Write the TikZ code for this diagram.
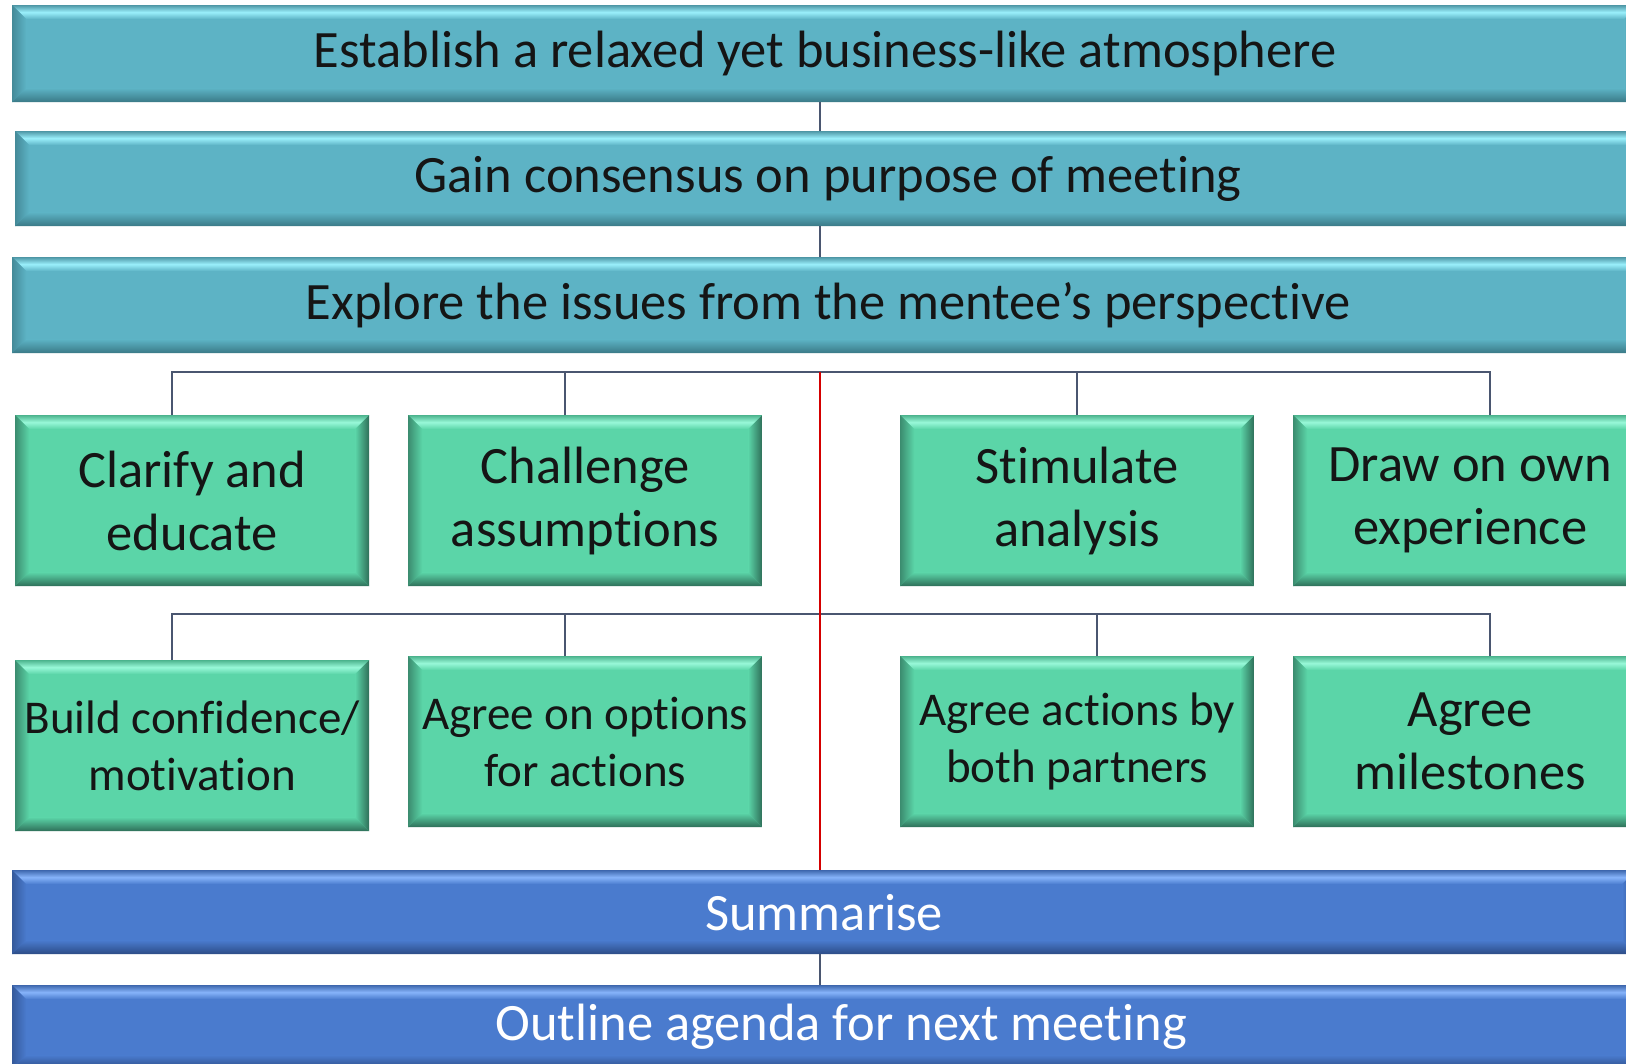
\documentclass[tikz,border=0pt]{standalone}
\usepackage{fontspec}
\setmainfont[Ligatures={NoCommon}]{Carlito}
\definecolor{tealB}{HTML}{5DB3C5}
\definecolor{tealL}{HTML}{9AEFFB}
\definecolor{tealD}{HTML}{3A7986}
\definecolor{greenB}{HTML}{5BD5A8}
\definecolor{greenL}{HTML}{98F8D8}
\definecolor{greenD}{HTML}{2E6E58}
\definecolor{blueB}{HTML}{4A7BCE}
\definecolor{blueL}{HTML}{86B3FA}
\definecolor{blueD}{HTML}{2C4C86}
\definecolor{connC}{HTML}{4A5670}
\definecolor{redC}{HTML}{D40000}
\definecolor{txtC}{HTML}{151515}
\tikzset{
  bevel/.style n args={3}{fill=#1, inner sep=0pt, anchor=north west, align=center,
    path picture={
      \path (path picture bounding box.north west) coordinate (bNW)
            (path picture bounding box.north east) coordinate (bNE)
            (path picture bounding box.south west) coordinate (bSW)
            (path picture bounding box.south east) coordinate (bSE);
      \path ([shift={(14pt,-14pt)}]bNW) coordinate (iNW)
            ([shift={(-14pt,-14pt)}]bNE) coordinate (iNE)
            ([shift={(14pt,14pt)}]bSW) coordinate (iSW)
            ([shift={(-14pt,14pt)}]bSE) coordinate (iSE);
      \shade[top color=#1!85!black, bottom color=#1, middle color=#2] (bNW) -- (bNE) -- (iNE) -- (iNW) -- cycle;
      \shade[left color=#3!70!#1, right color=#1] (bNW) -- (iNW) -- (iSW) -- (bSW) -- cycle;
      \shade[top color=#1, bottom color=#3] (bSW) -- (iSW) -- (iSE) -- (bSE) -- cycle;
      \shade[left color=#1, right color=#3] (bNE) -- (bSE) -- (iSE) -- (iNE) -- cycle;
    }},
  tealbar/.style={bevel={tealB}{tealL}{tealD}, text=txtC, font=\fontsize{52.5}{63}\selectfont},
  bluebar/.style={bevel={blueB}{blueL}{blueD}, text=white, font=\fontsize{52.5}{63}\selectfont},
  greenbox/.style={bevel={greenB}{greenL}{greenD}, text=txtC, minimum width=354pt, minimum height=171pt},
  bigtext/.style={font=\fontsize{52.5}{63}\selectfont},
  smalltext/.style={font=\fontsize{47}{57}\selectfont},
  conn/.style={draw=connC, line width=2pt},
  redconn/.style={draw=redC, line width=2.5pt},
}
\begin{document}
\begin{tikzpicture}[x=1pt,y=-1pt]
\useasboundingbox (0,0) rectangle (1626,1064);
\clip (0,0) rectangle (1626,1064);
\fill[white] (0,0) rectangle (1626,1064);
% bars
\node[tealbar, minimum width=1626pt, minimum height=97pt] (bar1) at (12,5) {Establish a relaxed yet business-like atmosphere};
\node[tealbar, minimum width=1626pt, minimum height=95pt] (bar2) at (15,131) {Gain consensus on purpose of meeting};
\node[tealbar, minimum width=1632pt, minimum height=96pt] (bar3) at (12,257) {Explore the issues from the mentee’s perspective};
\node[bluebar, minimum width=1624pt, minimum height=84pt] (bar4) at (12,870) {Summarise};
\node[bluebar, minimum width=1658pt, minimum height=84pt] (bar5) at (12,985) {Outline agenda for next meeting};
% row 1
\node[greenbox, bigtext] (g11) at (15,415) {Clarify and\\educate};
\node[greenbox, bigtext] (g12) at (408,415) {Challenge\\assumptions};
\node[greenbox, bigtext] (g13) at (900,415) {Stimulate\\analysis};
\node[greenbox, bigtext] (g14) at (1293,415) {Draw on own\\experience};
% row 2
\node[greenbox, smalltext] (g21) at (15,660) {Build confidence/\\motivation};
\node[greenbox, smalltext] (g22) at (408,656) {Agree on options\\for actions};
\node[greenbox, smalltext] (g23) at (900,656) {Agree actions by\\both partners};
\node[greenbox, bigtext] (g24) at (1293,656) {Agree\\milestones};
% connectors
\coordinate (spine) at (820,0);
\coordinate (h1) at (0,372);
\coordinate (h2) at (0,614);
\draw[conn] (bar1.south -| spine) -- (bar2.north -| spine);
\draw[conn] (bar2.south -| spine) -- (bar3.north -| spine);
\draw[conn] (bar4.south -| spine) -- (bar5.north -| spine);
\draw[conn] ([xshift=-20pt]g11.north) |- ([xshift=20pt]g14.north |- h1) -- ([xshift=20pt]g14.north);
\draw[conn] ([xshift=-20pt]g12.north) -- ([xshift=-20pt]g12.north |- h1);
\draw[conn] (g13.north) -- (g13.north |- h1);
\draw[conn] ([xshift=-20pt]g21.north) |- ([xshift=20pt]g24.north |- h2) -- ([xshift=20pt]g24.north);
\draw[conn] ([xshift=-20pt]g22.north) -- ([xshift=-20pt]g22.north |- h2);
\draw[conn] ([xshift=20pt]g23.north) -- ([xshift=20pt]g23.north |- h2);
\draw[redconn] (spine |- h1) -- (bar4.north -| spine);
\end{tikzpicture}
\end{document}
